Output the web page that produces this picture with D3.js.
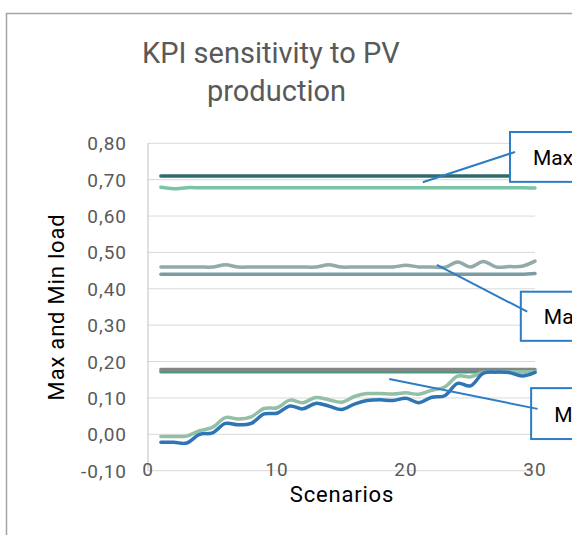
<!DOCTYPE html>
<html>
<head>
<meta charset="utf-8">
<script src="https://cdn.jsdelivr.net/npm/d3@7"></script>
<style>
  html, body { margin: 0; padding: 0; background: #fff; }
  svg { display: block; font-family: Roboto, "Open Sans", sans-serif; }
</style>
</head>
<body>
<svg id="chart" width="572" height="535"></svg>
<script>
// Scenario index on the horizontal axis
const scenarios = d3.range(1, 31);

// Load series per scenario
const maxLoadNoPv   = scenarios.map(() => 0.71);
const maxLoadRef    = [0.679, 0.675, 0.678, 0.678, 0.678, 0.678, 0.678, 0.678, 0.678, 0.678,
                       0.678, 0.678, 0.678, 0.678, 0.678, 0.678, 0.678, 0.678, 0.678, 0.678,
                       0.678, 0.678, 0.678, 0.678, 0.678, 0.678, 0.678, 0.678, 0.678, 0.677];
const maxLoadPvHigh = [0.460, 0.460, 0.460, 0.460, 0.460, 0.466, 0.460, 0.460, 0.460, 0.460,
                       0.460, 0.460, 0.460, 0.466, 0.460, 0.460, 0.460, 0.460, 0.460, 0.465,
                       0.460, 0.460, 0.459, 0.474, 0.460, 0.475, 0.460, 0.461, 0.462, 0.476];
const maxLoadPvLow  = [0.440, 0.440, 0.440, 0.440, 0.440, 0.440, 0.440, 0.440, 0.440, 0.440,
                       0.440, 0.440, 0.440, 0.440, 0.440, 0.440, 0.440, 0.440, 0.440, 0.440,
                       0.440, 0.440, 0.440, 0.440, 0.440, 0.440, 0.440, 0.440, 0.440, 0.442];
const minLoadNoPv   = scenarios.map(() => 0.178);
const minLoadRef    = scenarios.map(() => 0.172);
const minLoadPvHigh = [-0.006, -0.006, -0.005, 0.010, 0.019, 0.046, 0.042, 0.048, 0.071, 0.073,
                       0.094, 0.087, 0.101, 0.095, 0.088, 0.104, 0.112, 0.112, 0.111, 0.114,
                       0.110, 0.121, 0.130, 0.160, 0.158, 0.171, 0.172, 0.172, 0.172, 0.172];
const minLoadPvLow  = [-0.022, -0.022, -0.024, 0.000, 0.004, 0.030, 0.026, 0.030, 0.056, 0.058,
                       0.078, 0.070, 0.085, 0.078, 0.068, 0.083, 0.093, 0.095, 0.093, 0.099,
                       0.087, 0.102, 0.106, 0.140, 0.133, 0.168, 0.171, 0.170, 0.160, 0.170];

// Axis ticks
const yTicks = [-0.10, 0.00, 0.10, 0.20, 0.30, 0.40, 0.50, 0.60, 0.70, 0.80];
const xTicks = [0, 10, 20, 30];

// Callouts: anchor point, leader end and box corner, in data units
const callouts = [
  { text: "Max", ax: 21.3, ay: 0.693, lx: 28.45, ly: 0.776, bx: 28.06, byTop: 0.831, byBot: 0.694 },
  { text: "Max", ax: 22.4, ay: 0.466, lx: 29.4,  ly: 0.337, bx: 28.9,  byTop: 0.392, byBot: 0.257 },
  { text: "Min", ax: 18.7, ay: 0.152, lx: 30.2,  ly: 0.070, bx: 29.7,  byTop: 0.127, byBot: -0.013 }
];

const series = [
  { values: maxLoadNoPv,   color: "#2e6b6f" },
  { values: maxLoadRef,    color: "#7cc4a6" },
  { values: maxLoadPvHigh, color: "#94a9aa" },
  { values: maxLoadPvLow,  color: "#7b9ca1" },
  { values: minLoadRef,    color: "#4b9a7f" },
  { values: minLoadNoPv,   color: "#838787" },
  { values: minLoadPvHigh, color: "#93bfa7" },
  { values: minLoadPvLow,  color: "#2e75b6" }
];

const svg = d3.select("#chart");
const x = d3.scaleLinear().domain([0, 30]).range([148, 535]);
const y = d3.scaleLinear().domain([-0.1, 0.8]).range([470.7, 143.3]);
const fmt = d3.formatLocale({ decimal: ",", thousands: ".", grouping: [3], currency: ["", ""], minus: "-" }).format(".2f");

// Chart frame
svg.append("path")
  .attr("d", "M6.5,535 L6.5,13.5 L572,13.5")
  .attr("fill", "none").attr("stroke", "#a3a3a3").attr("stroke-width", 1.5);

// Title
const title = svg.append("text")
  .attr("fill", "#595959").attr("font-size", 29);
title.append("tspan").attr("x", 142).attr("y", 63).text("KPI sensitivity to PV");
title.append("tspan").attr("x", 207).attr("y", 101).text("production");

// Horizontal gridlines
svg.append("g").selectAll("line").data(yTicks).join("line")
  .attr("x1", x(0)).attr("x2", x(30))
  .attr("y1", d => y(d)).attr("y2", d => y(d))
  .attr("stroke", "#d9d9d9").attr("stroke-width", 1);

// Vertical axis line
svg.append("line")
  .attr("x1", x(0)).attr("x2", x(0)).attr("y1", y(0.8)).attr("y2", y(-0.1))
  .attr("stroke", "#bfbfbf").attr("stroke-width", 1);

// Y tick labels
svg.append("g").selectAll("text").data(yTicks).join("text")
  .attr("x", 127).attr("y", d => y(d) + 7)
  .attr("text-anchor", "end").attr("fill", "#595959").attr("font-size", 19)
  .attr("letter-spacing", 1)
  .text(d => fmt(d));

// X tick labels
svg.append("g").selectAll("text").data(xTicks).join("text")
  .attr("x", d => x(d)).attr("y", y(-0.1) + 5)
  .attr("text-anchor", "middle").attr("fill", "#595959").attr("font-size", 19)
  .attr("letter-spacing", 1)
  .text(d => d);

// Axis titles
svg.append("text")
  .attr("transform", `translate(64,${(y(0.8) + y(-0.1)) / 2}) rotate(-90)`)
  .attr("text-anchor", "middle").attr("fill", "#000").attr("font-size", 22)
  .attr("letter-spacing", 0.8)
  .text("Max and Min load");
svg.append("text")
  .attr("x", 342).attr("y", 502)
  .attr("text-anchor", "middle").attr("fill", "#000").attr("font-size", 22)
  .attr("letter-spacing", 0.8)
  .text("Scenarios");

// Series lines
const line = d3.line()
  .x((d, i) => x(scenarios[i]))
  .y(d => y(d))
  .curve(d3.curveCatmullRom.alpha(0.5));

svg.append("g").selectAll("path").data(series).join("path")
  .attr("d", s => line(s.values))
  .attr("fill", "none")
  .attr("stroke", s => s.color)
  .attr("stroke-width", 3.5)
  .attr("stroke-linecap", "round")
  .attr("stroke-linejoin", "round");

// Callouts: box, then leader line, then label
const cg = svg.append("g").selectAll("g").data(callouts).join("g");
cg.append("rect")
  .attr("x", d => x(d.bx)).attr("y", d => y(d.byTop))
  .attr("width", d => 600 - x(d.bx)).attr("height", d => y(d.byBot) - y(d.byTop))
  .attr("fill", "#fff").attr("stroke", "#2e7cc4").attr("stroke-width", 2);
cg.append("line")
  .attr("x1", d => x(d.ax)).attr("y1", d => y(d.ay))
  .attr("x2", d => x(d.lx)).attr("y2", d => y(d.ly))
  .attr("stroke", "#2e7cc4").attr("stroke-width", 2);
cg.append("text")
  .attr("x", d => x(d.bx) + 23)
  .attr("y", d => (y(d.byTop) + y(d.byBot)) / 2 + 8)
  .attr("fill", "#000").attr("font-size", 21)
  .text(d => d.text);
</script>
</body>
</html>
